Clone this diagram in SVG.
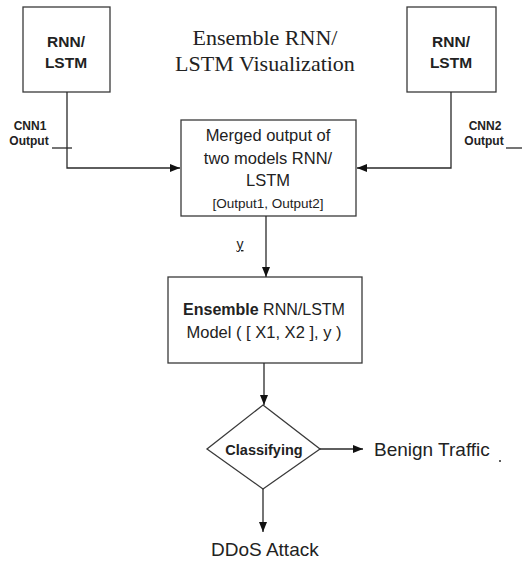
<svg xmlns="http://www.w3.org/2000/svg" width="522" height="562" viewBox="0 0 522 562">
<style>
.box{fill:#fff;stroke:#3a3a3a;stroke-width:1.3}
.ln{fill:none;stroke:#2a2a2a;stroke-width:1.3}
.s{font-family:"Liberation Sans",Arial,sans-serif;fill:#222}
.b{font-weight:bold}
.ser{font-family:"Liberation Serif","Times New Roman",serif;fill:#222}
</style>
<defs>
<marker id="ah" markerWidth="10" markerHeight="8" refX="10" refY="4" orient="auto" markerUnits="userSpaceOnUse">
<path d="M0,0 L10,4 L0,8 Z" fill="#111"/>
</marker>
</defs>
<rect width="522" height="562" fill="#fff"/>
<g id="title">
<text class="ser" x="265" y="45" font-size="22" text-anchor="middle">Ensemble RNN/</text>
<text class="ser" x="265" y="71" font-size="22" text-anchor="middle">LSTM Visualization</text>
</g>
<g id="rnn1">
<rect class="box" x="23" y="7" width="87" height="85"/>
<text class="s b" x="66" y="47" font-size="15.5" text-anchor="middle">RNN/</text>
<text class="s b" x="66" y="68" font-size="15.5" text-anchor="middle">LSTM</text>
</g>
<g id="rnn2">
<rect class="box" x="407" y="7" width="89" height="85"/>
<text class="s b" x="451" y="47" font-size="15.5" text-anchor="middle">RNN/</text>
<text class="s b" x="451" y="68" font-size="15.5" text-anchor="middle">LSTM</text>
</g>
<g id="merged">
<rect class="box" x="181" y="120" width="175" height="96"/>
<text class="s" x="268" y="141" font-size="16.5" text-anchor="middle">Merged output of</text>
<text class="s" x="268" y="164" font-size="16.5" text-anchor="middle">two models RNN/</text>
<text class="s" x="268" y="186" font-size="16.5" text-anchor="middle">LSTM</text>
<text class="s" x="268" y="208" font-size="13.5" text-anchor="middle">[Output1, Output2]</text>
</g>
<g id="ensemble">
<rect class="box" x="168" y="277" width="194" height="86"/>
<text class="s" x="264" y="315" font-size="16" text-anchor="middle"><tspan class="b">Ensemble</tspan> RNN/LSTM</text>
<text class="s" x="264" y="338" font-size="16.5" text-anchor="middle">Model ( [ X1, X2 ], y )</text>
</g>
<g id="classify">
<polygon class="box" points="263,405 320,449 263,489 207,449"/>
<text class="s b" x="264" y="455" font-size="14.5" text-anchor="middle">Classifying</text>
</g>
<g id="benign">
<text class="s" x="374" y="456" font-size="19">Benign Traffic</text>
</g>
<g id="ddos">
<text class="s" x="211" y="556" font-size="19">DDoS Attack</text>
</g>
<g id="connectors">
<path class="ln" d="M67,92 V168 H180" marker-end="url(#ah)"/>
<path class="ln" d="M451,92 V168 H357" marker-end="url(#ah)"/>
<path class="ln" d="M52,148 H72"/>
<path class="ln" d="M506,148 H522"/>
<path class="ln" d="M266,216 V277" marker-end="url(#ah)"/>
<path class="ln" d="M264,363 V405" marker-end="url(#ah)"/>
<path class="ln" d="M320,449 H363" marker-end="url(#ah)"/>
<path class="ln" d="M263,489 V532" marker-end="url(#ah)"/>
<path class="ln" d="M499,461 H501"/>
</g>
<g id="labels">
<text class="s b" x="30" y="130" font-size="12" text-anchor="middle">CNN1</text>
<text class="s b" x="29" y="145" font-size="12" text-anchor="middle">Output</text>
<text class="s b" x="485" y="130" font-size="12" text-anchor="middle">CNN2</text>
<text class="s b" x="484" y="145" font-size="12" text-anchor="middle">Output</text>
<text class="s" x="240" y="249" font-size="14" text-anchor="middle" text-decoration="underline">y</text>
</g>
</svg>
